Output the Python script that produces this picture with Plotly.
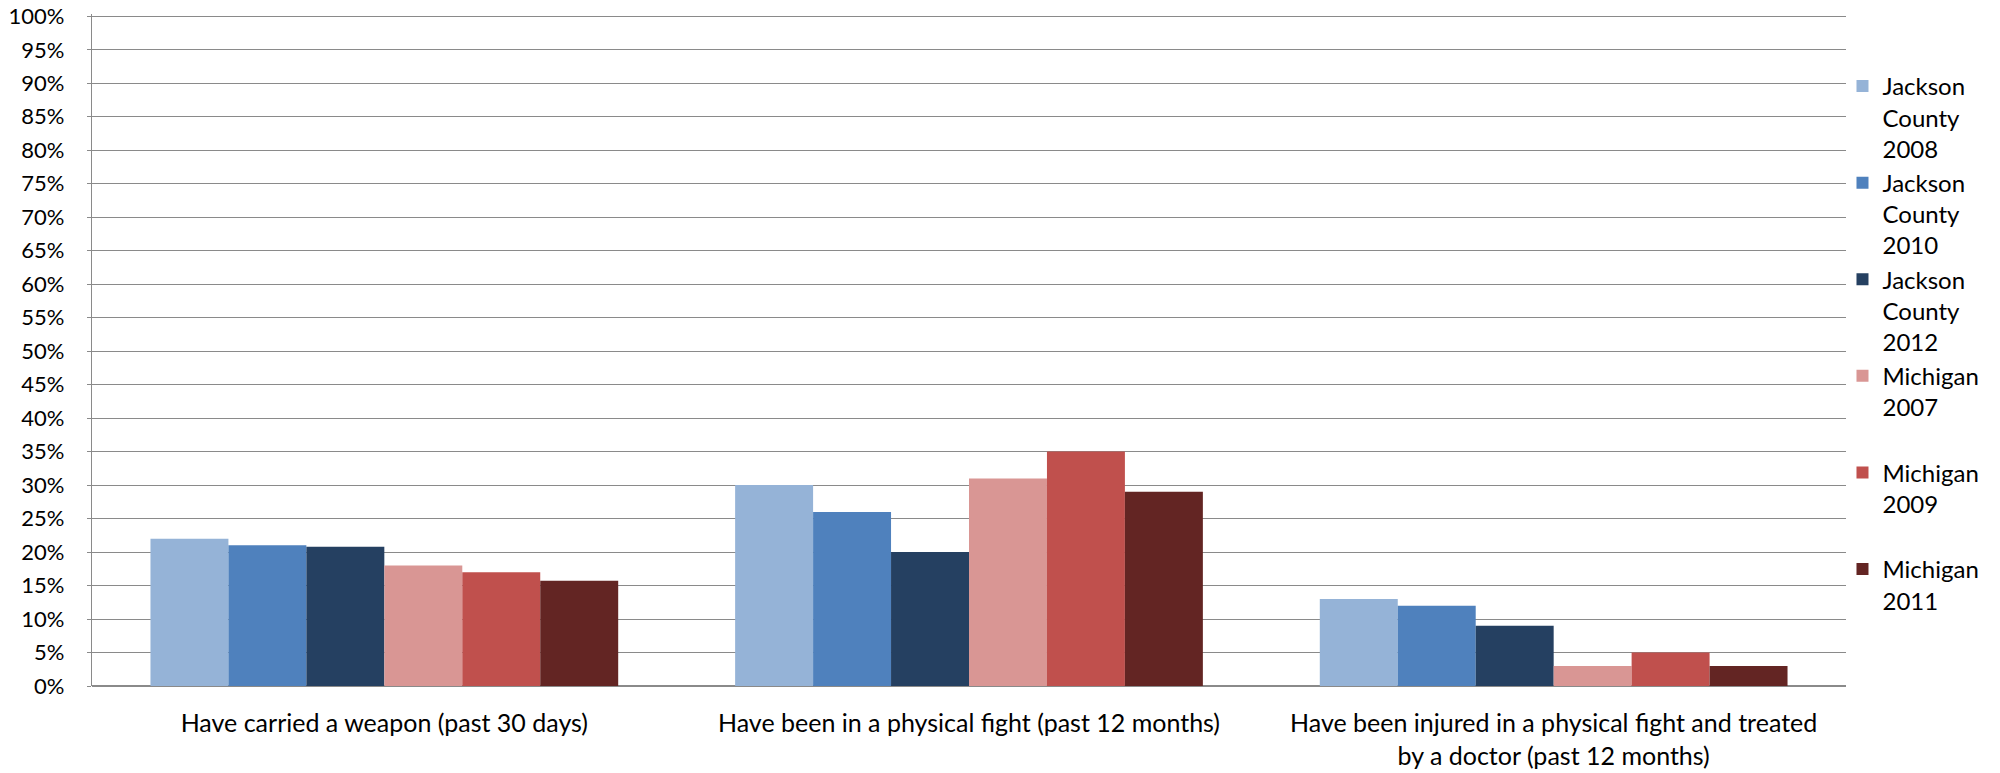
import plotly.graph_objects as go

categories = [
    "Have carried a weapon (past 30 days)",
    "Have been in a physical fight (past 12 months)",
    "Have been injured in a physical fight and treated<br>by a doctor (past 12 months)",
]
series_names = [
    "Jackson<br>County<br>2008",
    "Jackson<br>County<br>2010",
    "Jackson<br>County<br>2012",
    "Michigan<br>2007<br> ",
    "Michigan<br>2009<br> ",
    "Michigan<br>2011<br> ",
]
jackson_2008 = [22, 30, 13]
jackson_2010 = [21, 26, 12]
jackson_2012 = [20.8, 20, 9]
michigan_2007 = [18, 31, 3]
michigan_2009 = [17, 35, 5]
michigan_2011 = [15.7, 29, 3]
series_values = [jackson_2008, jackson_2010, jackson_2012,
                 michigan_2007, michigan_2009, michigan_2011]
colors = ["#95B3D7", "#4F81BD", "#254061", "#D99694", "#C0504D", "#632523"]
tick_vals = list(range(0, 101, 5))
tick_text = [f"{v}%" for v in tick_vals]

FONT = "Lato, Calibri, Carlito, sans-serif"

fig = go.Figure()
for name, vals, col in zip(series_names, series_values, colors):
    fig.add_trace(go.Bar(
        x=categories, y=vals, name=name,
        marker=dict(color=col, line=dict(width=0)),
    ))

W, H = 2000, 773
L, T = 92, 14
R = W - 1846
B = H - 686.5

fig.update_layout(
    width=W, height=H,
    margin=dict(l=L, r=R, t=T, b=B, autoexpand=False),
    paper_bgcolor="white", plot_bgcolor="white",
    barmode="group", bargap=0.2, bargroupgap=0,
    font=dict(family=FONT, size=24, color="#000000"),
    showlegend=True,
    legend=dict(
        x=0.998, xanchor="left",
        y=1 - (64 - T) / (H - T - B), yanchor="top",
        valign="top",
        font=dict(family=FONT, size=24, color="#000000"),
        bgcolor="rgba(0,0,0,0)",
        traceorder="normal",
    ),
    xaxis=dict(
        showgrid=False, zeroline=False,
        showline=False,
        tickfont=dict(family=FONT, size=25, color="#000000"),
        ticks="",
        ticklabelstandoff=20,
    ),
    yaxis=dict(
        range=[0, 100.35],
        tickvals=tick_vals, ticktext=tick_text,
        showgrid=True, gridcolor="#8a8a8a", gridwidth=1.3,
        zeroline=True, zerolinecolor="#8a8a8a", zerolinewidth=1.5,
        showline=True, linecolor="#8a8a8a", linewidth=1.3,
        ticks="outside", ticklen=4, tickcolor="#8a8a8a",
        tickfont=dict(family=FONT, size=22, color="#000000"),
        ticklabelstandoff=18,
    ),
)

fig.write_html(
    "out.html",
    config={"displayModeBar": False},
    post_script="document.body.style.margin='0';document.body.style.overflow='hidden';",
)
